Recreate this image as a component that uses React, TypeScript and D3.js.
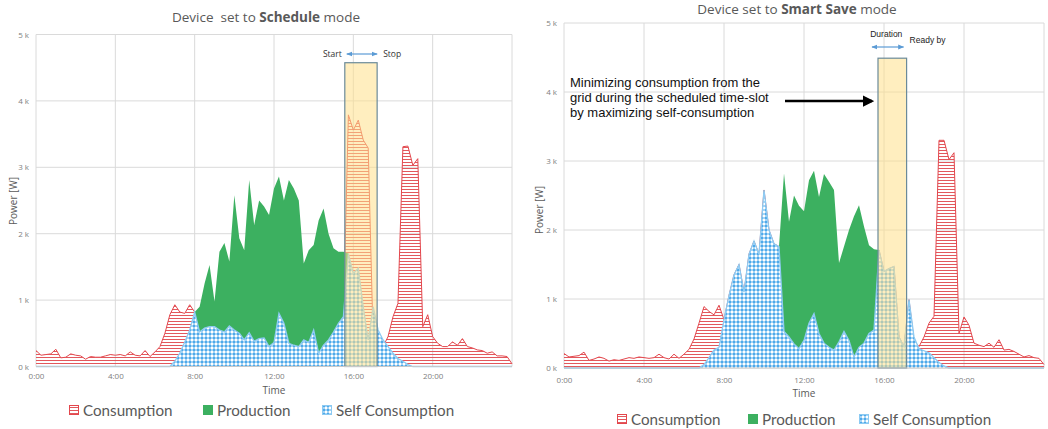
import React, { useEffect, useRef } from "react";
import * as d3 from "d3";

// quarter-hour time grid shared by every series (hours since midnight)
const hours: number[] = d3.range(0, 97).map(i => i * 0.25);

const tickHours = [0, 4, 8, 12, 16, 20];
const timeLabels = ["0:00", "4:00", "8:00", "12:00", "16:00", "20:00"];
const gridHours = [0, 4, 8, 12, 16, 20, 24];
const powerTicks = [0, 1, 2, 3, 4, 5];
const powerLabels = ["0 k", "1 k", "2 k", "3 k", "4 k", "5 k"];
const legendLabels = ["Consumption", "Production", "Self Consumption"];

// ---- Schedule mode (kW) ----
const scheduleConsumption = [
  0.24, 0.17, 0.18, 0.19, 0.26, 0.13, 0.14, 0.19, 0.17, 0.16, 0.11, 0.15, 0.14, 0.14, 0.16, 0.18,
  0.17, 0.18, 0.16, 0.22, 0.17, 0.16, 0.24, 0.15, 0.22, 0.3, 0.5, 0.78, 0.93, 0.82, 0.8, 0.93,
  0.82, 0.52, 0.58, 0.6, 0.6, 0.55, 0.52, 0.61, 0.55, 0.5, 0.4, 0.51, 0.38, 0.42, 0.43, 0.3,
  0.36, 0.8, 0.65, 0.35, 0.32, 0.3, 0.4, 0.36, 0.55, 0.2, 0.32, 0.4, 0.52, 0.65, 0.75, 3.79,
  3.56, 3.71, 3.41, 3.29, 0.4, 0.45, 0.3, 0.45, 0.75, 0.95, 3.31, 3.32, 3.03, 3.13, 0.6, 0.78,
  0.45, 0.35, 0.3, 0.3, 0.37, 0.32, 0.42, 0.3, 0.28, 0.25, 0.24, 0.2, 0.22, 0.16, 0.16, 0.15,
  0.04,
];
const scheduleProduction = [
  0, 0, 0, 0, 0, 0, 0, 0, 0, 0, 0, 0, 0, 0, 0, 0,
  0, 0, 0, 0, 0, 0, 0, 0, 0, 0, 0, 0, 0.08, 0.2, 0.37, 0.55,
  0.82, 0.9, 1.25, 1.53, 0.98, 1.73, 1.86, 1.58, 2.58, 1.93, 1.75, 2.81, 2.13, 2.5, 2.41, 2.28,
  2.68, 2.86, 2.5, 2.81, 2.68, 2.5, 1.55, 1.75, 1.83, 2.2, 2.38, 2.0, 1.78, 1.73, 1.73, 1.7,
  1.4, 1.48, 0.9, 0.4, 0.9, 0.55, 0.4, 0.3, 0.2, 0.12, 0.08, 0.03, 0, 0, 0, 0,
  0, 0, 0, 0, 0, 0, 0, 0, 0, 0, 0, 0, 0, 0, 0, 0,
  0,
];
const scheduleSelf = [
  0, 0, 0, 0, 0, 0, 0, 0, 0, 0, 0, 0, 0, 0, 0, 0,
  0, 0, 0, 0, 0, 0, 0, 0, 0, 0, 0, 0, 0.08, 0.2, 0.37, 0.55,
  0.82, 0.52, 0.58, 0.6, 0.6, 0.55, 0.52, 0.61, 0.55, 0.5, 0.4, 0.51, 0.38, 0.42, 0.43, 0.3,
  0.36, 0.8, 0.65, 0.35, 0.32, 0.3, 0.4, 0.36, 0.55, 0.2, 0.32, 0.4, 0.52, 0.65, 0.75, 1.7,
  1.4, 1.48, 0.9, 0.4, 0.9, 0.55, 0.4, 0.3, 0.2, 0.12, 0.08, 0.03, 0, 0, 0, 0,
  0, 0, 0, 0, 0, 0, 0, 0, 0, 0, 0, 0, 0, 0, 0, 0,
  0,
];
const scheduleSlot = [15.57, 17.2];

// ---- Smart Save mode (kW) ----
const smartConsumption = [
  0.21, 0.16, 0.17, 0.18, 0.23, 0.11, 0.13, 0.16, 0.14, 0.1, 0.12, 0.11, 0.13, 0.15, 0.14, 0.16,
  0.15, 0.14, 0.15, 0.2, 0.15, 0.13, 0.2, 0.14, 0.2, 0.27, 0.42, 0.65, 0.89, 0.82, 0.77, 0.91,
  0.7, 1.05, 1.35, 1.5, 1.1, 1.65, 1.84, 1.65, 2.58, 2.0, 1.8, 1.76, 0.53, 0.45, 0.35, 0.28,
  0.4, 0.65, 0.79, 0.5, 0.36, 0.3, 0.26, 0.38, 0.53, 0.4, 0.16, 0.3, 0.36, 0.5, 0.55, 1.71,
  1.4, 1.44, 1.47, 0.45, 0.31, 0.99, 0.4, 0.31, 0.45, 0.65, 0.75, 3.3, 3.3, 3.02, 3.12, 0.5,
  0.74, 0.62, 0.36, 0.33, 0.31, 0.36, 0.3, 0.41, 0.26, 0.27, 0.24, 0.2, 0.16, 0.18, 0.15, 0.14,
  0.05,
];
const smartProduction = [
  0, 0, 0, 0, 0, 0, 0, 0, 0, 0, 0, 0, 0, 0, 0, 0,
  0, 0, 0, 0, 0, 0, 0, 0, 0, 0, 0, 0, 0.05, 0.15, 0.26, 0.3,
  0.7, 1.05, 1.35, 1.5, 1.1, 1.65, 1.84, 1.65, 2.58, 2.0, 1.8, 1.76, 2.82, 2.12, 2.5, 2.35,
  2.27, 2.72, 2.86, 2.48, 2.81, 2.7, 2.58, 1.52, 1.76, 2.0, 2.2, 2.36, 2.05, 1.78, 1.72, 1.71,
  1.4, 1.44, 1.47, 0.45, 0.31, 0.99, 0.45, 0.28, 0.25, 0.22, 0.15, 0.08, 0.03, 0, 0, 0,
  0, 0, 0, 0, 0, 0, 0, 0, 0, 0, 0, 0, 0, 0, 0, 0,
  0,
];
const smartSelf = [
  0, 0, 0, 0, 0, 0, 0, 0, 0, 0, 0, 0, 0, 0, 0, 0,
  0, 0, 0, 0, 0, 0, 0, 0, 0, 0, 0, 0, 0.05, 0.15, 0.26, 0.3,
  0.7, 1.05, 1.35, 1.5, 1.1, 1.65, 1.84, 1.65, 2.58, 2.0, 1.8, 1.76, 0.53, 0.45, 0.35, 0.28,
  0.4, 0.65, 0.79, 0.5, 0.36, 0.3, 0.26, 0.38, 0.53, 0.4, 0.16, 0.3, 0.36, 0.5, 0.55, 1.71,
  1.4, 1.44, 1.47, 0.45, 0.31, 0.99, 0.45, 0.28, 0.25, 0.22, 0.15, 0.08, 0.03, 0, 0, 0,
  0, 0, 0, 0, 0, 0, 0, 0, 0, 0, 0, 0, 0, 0, 0, 0,
  0,
];
const smartSlot = [15.7, 17.13];

const RED = "#e3474d";
const GREEN = "#3cb060";
const BLUE = "#4ea9ea";
const SANS = "'Open Sans', sans-serif";
const LEGEND_FONT = "Lato, sans-serif";

interface ChartConfig {
  id: string;
  left: number; right: number; top: number; bottom: number;
  title: [string, string, string];
  titleX: number; titleY: number;
  consumption: number[]; production: number[]; self: number[];
  slot: number[]; slotTop: number;
  xLabelY: number; timeY: number; powerX: number; powerY: number;
  legendY: number; legendX: number[];
}

const charts: ChartConfig[] = [
  {
    id: "schedule", left: 36, right: 512, top: 34.5, bottom: 366.5,
    title: ["Device  set to ", "Schedule", " mode"], titleX: 266, titleY: 22,
    consumption: scheduleConsumption, production: scheduleProduction, self: scheduleSelf,
    slot: scheduleSlot, slotTop: 4.575,
    xLabelY: 379, timeY: 394, powerX: 13, powerY: 201,
    legendY: 416, legendX: [69, 203, 322],
  },
  {
    id: "smart", left: 564, right: 1044, top: 23, bottom: 368,
    title: ["Device set to ", "Smart Save", " mode"], titleX: 797, titleY: 14,
    consumption: smartConsumption, production: smartProduction, self: smartSelf,
    slot: smartSlot, slotTop: 4.49,
    xLabelY: 383, timeY: 397, powerX: 539, powerY: 210,
    legendY: 425, legendX: [617, 748, 859],
  },
];

function drawChart(root: any, c: ChartConfig) {
  const x = d3.scaleLinear().domain([0, 24]).range([c.left, c.right]);
  const y = d3.scaleLinear().domain([0, 5]).range([c.bottom, c.top]);
  const g = root.append("g").attr("class", c.id);

  // title
  const t = g.append("text")
    .attr("x", c.titleX).attr("y", c.titleY)
    .attr("text-anchor", "middle")
    .attr("font-family", SANS).attr("font-size", 13.5)
    .attr("fill", "#595959")
    .style("white-space", "pre");
  t.append("tspan").text(c.title[0]);
  t.append("tspan").attr("font-weight", "bold").text(c.title[1]);
  t.append("tspan").text(c.title[2]);

  // gridlines
  g.append("g").selectAll("line").data(powerTicks).join("line")
    .attr("x1", c.left).attr("x2", c.right)
    .attr("y1", (d: number) => y(d)).attr("y2", (d: number) => y(d))
    .attr("stroke", "#dadada").attr("stroke-width", 1);
  g.append("g").selectAll("line").data(gridHours).join("line")
    .attr("x1", (d: number) => x(d)).attr("x2", (d: number) => x(d))
    .attr("y1", c.top).attr("y2", c.bottom)
    .attr("stroke", "#dadada").attr("stroke-width", 1);

  const area = d3.area<number>()
    .x((_, i) => x(hours[i])).y0(y(0)).y1(d => y(d));
  const line = d3.line<number>()
    .x((_, i) => x(hours[i])).y(d => y(d));

  // consumption (striped), production (solid), self consumption (diamonds)
  g.append("path").attr("d", area(c.consumption)).attr("fill", "url(#hstripes)");
  g.append("path").attr("d", line(c.consumption))
    .attr("fill", "none").attr("stroke", RED).attr("stroke-width", 1);
  g.append("path").attr("d", area(c.production)).attr("fill", GREEN);
  g.append("path").attr("d", area(c.self)).attr("fill", "url(#diamonds)");
  g.append("path").attr("d", line(c.self))
    .attr("fill", "none").attr("stroke", "#8fcbf3").attr("stroke-width", 1.3);

  // scheduled time-slot
  g.append("rect")
    .attr("x", x(c.slot[0])).attr("width", x(c.slot[1]) - x(c.slot[0]))
    .attr("y", y(c.slotTop)).attr("height", y(0) - y(c.slotTop))
    .attr("fill", "#ffe08a").attr("fill-opacity", 0.55)
    .attr("stroke", "#6b8a99").attr("stroke-width", 1.2);

  // axes
  const xAxis = d3.axisBottom(x).tickValues(tickHours)
    .tickFormat((_, i) => timeLabels[i]).tickSize(0).tickPadding(0);
  const xg = g.append("g").attr("transform", `translate(0,${c.xLabelY - 6})`).call(xAxis);
  xg.select(".domain").remove();
  xg.attr("font-family", SANS).attr("font-size", 8).selectAll("text").attr("fill", "#808080");
  g.append("line").attr("x1", c.left).attr("x2", c.right)
    .attr("y1", c.bottom).attr("y2", c.bottom).attr("stroke", "#c8c8c8");

  const yAxis = d3.axisLeft(y).tickValues(powerTicks)
    .tickFormat((_, i) => powerLabels[i]).tickSize(0).tickPadding(7);
  const yg = g.append("g").attr("transform", `translate(${c.left},0)`).call(yAxis);
  yg.select(".domain").remove();
  yg.attr("font-family", SANS).attr("font-size", 8).selectAll("text").attr("fill", "#808080");

  g.append("text").attr("x", (c.left + c.right) / 2).attr("y", c.timeY)
    .attr("text-anchor", "middle").attr("font-family", SANS).attr("font-size", 10)
    .attr("fill", "#595959").text("Time");
  g.append("text")
    .attr("transform", `translate(${c.powerX},${c.powerY}) rotate(-90)`)
    .attr("text-anchor", "middle").attr("dy", "0.35em")
    .attr("font-family", SANS).attr("font-size", 10)
    .attr("fill", "#595959").text("Power [W]");

  // legend
  const fills = ["url(#hstripes)", GREEN, "url(#diamonds)"];
  const strokes = [RED, GREEN, "#8ccaf2"];
  const lg = g.append("g").selectAll("g").data(legendLabels).join("g")
    .attr("transform", (_: string, i: number) => `translate(${c.legendX[i]},${c.legendY})`);
  lg.append("rect").attr("x", 0.5).attr("y", -10.5).attr("width", 9).attr("height", 9)
    .attr("fill", (_: string, i: number) => fills[i])
    .attr("stroke", (_: string, i: number) => strokes[i]);
  lg.append("text").attr("x", 14).attr("y", 0)
    .attr("font-family", LEGEND_FONT).attr("font-size", 15.2)
    .attr("fill", "#595959").text((d: string) => d);

  return { x, y, g };
}

function App() {
  const ref = useRef<SVGSVGElement>(null);

  useEffect(() => {
    const svg: any = d3.select(ref.current);
    svg.selectAll("*").remove();

    const defs = svg.append("defs");
    const stripes = defs.append("pattern").attr("id", "hstripes")
      .attr("patternUnits", "userSpaceOnUse").attr("width", 4).attr("height", 3);
    stripes.append("rect").attr("width", 4).attr("height", 1).attr("fill", "#e2585d");
    const dia = defs.append("pattern").attr("id", "diamonds")
      .attr("patternUnits", "userSpaceOnUse").attr("width", 4).attr("height", 4);
    dia.append("rect").attr("width", 4).attr("height", 4).attr("fill", "#ffffff");
    dia.append("polygon").attr("points", "2,0 4,2 2,4 0,2").attr("fill", BLUE);
    defs.append("marker").attr("id", "blueHead").attr("viewBox", "0 0 10 10")
      .attr("refX", 9).attr("refY", 5).attr("markerWidth", 5).attr("markerHeight", 5)
      .attr("orient", "auto-start-reverse")
      .append("path").attr("d", "M0,1 L10,5 L0,9 z").attr("fill", "#5b9bd5");
    defs.append("marker").attr("id", "blackHead").attr("viewBox", "0 0 10 10")
      .attr("refX", 8).attr("refY", 5).attr("markerWidth", 4.5).attr("markerHeight", 4.5)
      .attr("orient", "auto")
      .append("path").attr("d", "M0,0 L10,5 L0,10 z").attr("fill", "#000");

    svg.append("rect").attr("width", 1048).attr("height", 429).attr("fill", "#fff");

    const sched = drawChart(svg, charts[0]);
    const smart = drawChart(svg, charts[1]);

    // Start / Stop annotation over the schedule slot
    const s0 = sched.x(scheduleSlot[0]);
    const s1 = sched.x(scheduleSlot[1]);
    sched.g.append("line").attr("x1", s0 + 2).attr("x2", s1).attr("y1", 54).attr("y2", 54)
      .attr("stroke", "#5b9bd5").attr("stroke-width", 1.2)
      .attr("marker-start", "url(#blueHead)").attr("marker-end", "url(#blueHead)");
    sched.g.append("text").attr("x", s0 - 3).attr("y", 57).attr("text-anchor", "end")
      .attr("font-family", SANS).attr("font-size", 8.5).attr("fill", "#333").text("Start");
    sched.g.append("text").attr("x", s1 + 6).attr("y", 57)
      .attr("font-family", SANS).attr("font-size", 8.5).attr("fill", "#333").text("Stop");

    // Duration / Ready by annotation for smart save
    const m0 = smart.x(smartSlot[0]);
    const m1 = smart.x(smartSlot[1]);
    smart.g.append("line").attr("x1", m0 - 6).attr("x2", m1 - 3).attr("y1", 47).attr("y2", 47)
      .attr("stroke", "#5b9bd5").attr("stroke-width", 1.2)
      .attr("marker-start", "url(#blueHead)").attr("marker-end", "url(#blueHead)");
    smart.g.append("text").attr("x", (m0 + m1) / 2 - 6).attr("y", 37).attr("text-anchor", "middle")
      .attr("font-family", "'Liberation Sans', Arial, sans-serif").attr("font-size", 8.5)
      .attr("fill", "#222").text("Duration");
    smart.g.append("text").attr("x", m1 + 3).attr("y", 43)
      .attr("font-family", "'Liberation Sans', Arial, sans-serif").attr("font-size", 8.5)
      .attr("fill", "#222").text("Ready by");

    const note = smart.g.append("text")
      .attr("font-family", "'Liberation Sans', Arial, sans-serif").attr("font-size", 13)
      .attr("fill", "#111");
    ["Minimizing consumption from the", "grid during the scheduled time-slot", "by maximizing self-consumption"]
      .forEach((s, i) => note.append("tspan").attr("x", 570).attr("y", 87 + i * 15).text(s));
    smart.g.append("line").attr("x1", 785).attr("x2", m0 - 6).attr("y1", 101).attr("y2", 101)
      .attr("stroke", "#000").attr("stroke-width", 2.5).attr("marker-end", "url(#blackHead)");
  }, []);

  return (
    <svg ref={ref} width={1048} height={429}
      style={{ position: "absolute", left: 0, top: 0, display: "block" }} />
  );
}

export default App;
